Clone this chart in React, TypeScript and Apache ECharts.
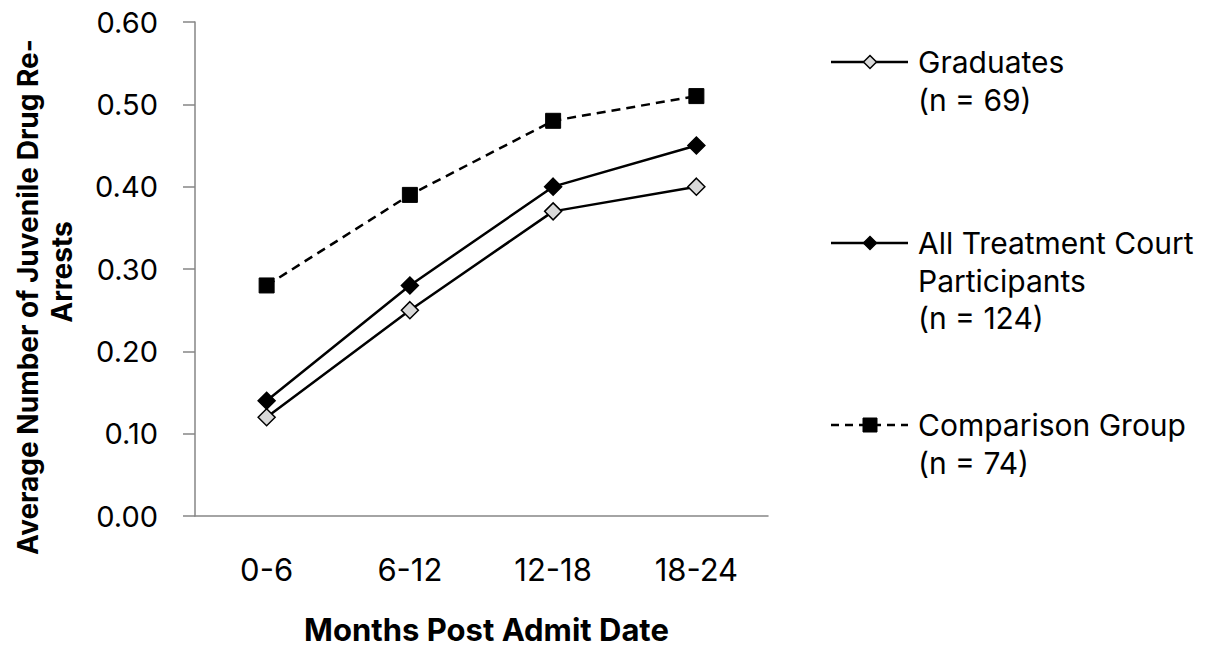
import React, { useEffect, useRef } from "react";
import * as echarts from "echarts";

const categories = ["0-6", "6-12", "12-18", "18-24"];
const graduates = [0.12, 0.25, 0.37, 0.4];
const allParticipants = [0.14, 0.28, 0.4, 0.45];
const comparison = [0.28, 0.39, 0.48, 0.51];
const legendLines = [
  ["Graduates", "(n = 69)"],
  ["All Treatment Court", "Participants", "(n = 124)"],
  ["Comparison Group", "(n = 74)"],
];
const yTitleLines = ["Average Number of Juvenile Drug Re-", "Arrests"];
const xTitle = "Months Post Admit Date";

const FONT = "Inter, 'Open Sans', sans-serif";
const AXIS_GRAY = "#868686";

export default function App() {
  const ref = useRef<HTMLDivElement>(null);
  useEffect(() => {
    if (!ref.current) return;
    const chart = echarts.init(ref.current, undefined, { renderer: "svg" });

    const legendTops = [62, 243, 425];
    const lineH = 37.5;
    const graphics: any[] = [];
    legendLines.forEach((lines, i) => {
      const y = legendTops[i];
      graphics.push({
        type: "line",
        shape: { x1: 831, y1: y, x2: 908, y2: y },
        style: {
          stroke: "#000",
          lineWidth: 2.5,
          lineDash: i === 2 ? [8, 6] : null,
        },
      });
      if (i === 2) {
        graphics.push({
          type: "rect",
          shape: { x: 863, y: y - 7, width: 14, height: 14 },
          style: { fill: "#000", stroke: "#000" },
        });
      } else {
        graphics.push({
          type: "polygon",
          shape: {
            points: [
              [870, y - 6.5],
              [876.5, y],
              [870, y + 6.5],
              [863.5, y],
            ],
          },
          style: { fill: i === 0 ? "#d9d9d9" : "#000", stroke: "#000", lineWidth: 1.5 },
        });
      }
      lines.forEach((t, k) => {
        graphics.push({
          type: "text",
          x: 918,
          y: y + k * lineH,
          style: {
            text: t,
            fontFamily: FONT,
            fontSize: 30,
            fill: "#000",
            verticalAlign: "middle",
            align: "left",
          },
        });
      });
    });

    graphics.push({
      type: "text",
      x: 28,
      y: 297,
      rotation: Math.PI / 2,
      style: {
        text: yTitleLines[0],
        fontFamily: FONT,
        fontSize: 28,
        fontWeight: "bold",
        fill: "#000",
        align: "center",
        verticalAlign: "middle",
      },
    });
    graphics.push({
      type: "text",
      x: 62,
      y: 272,
      rotation: Math.PI / 2,
      style: {
        text: yTitleLines[1],
        fontFamily: FONT,
        fontSize: 28,
        fontWeight: "bold",
        fill: "#000",
        align: "center",
        verticalAlign: "middle",
      },
    });

    chart.setOption({
      animation: false,
      grid: { left: 195, top: 22, width: 573, height: 496, containLabel: false },
      xAxis: {
        type: "category",
        data: categories,
        boundaryGap: true,
        axisLine: { show: true, lineStyle: { color: AXIS_GRAY, width: 1.5 } },
        axisTick: { show: false },
        axisLabel: { color: "#000", fontSize: 31, fontFamily: FONT, margin: 38 },
        name: xTitle,
        nameLocation: "middle",
        nameGap: 98,
        nameTextStyle: { color: "#000", fontSize: 31, fontWeight: "bold", fontFamily: FONT, padding: [0, 0, 0, 10] },
      },
      yAxis: {
        type: "value",
        min: 0,
        max: 0.6,
        interval: 0.1,
        splitLine: { show: false },
        axisLine: { show: true, lineStyle: { color: AXIS_GRAY, width: 1.5 } },
        axisTick: { show: true, length: 12, inside: false, lineStyle: { color: AXIS_GRAY, width: 1.5 } },
        axisLabel: {
          color: "#000",
          fontSize: 29,
          fontFamily: FONT,
          margin: 37,
          formatter: (v: number) => v.toFixed(2),
        },
      },
      series: [
        {
          name: "Graduates",
          type: "line",
          data: graduates,
          symbol: "diamond",
          symbolSize: 17,
          lineStyle: { color: "#000", width: 2.5 },
          itemStyle: { color: "#d9d9d9", borderColor: "#000", borderWidth: 1.5 },
        },
        {
          name: "All Treatment Court Participants",
          type: "line",
          data: allParticipants,
          symbol: "diamond",
          symbolSize: 17,
          lineStyle: { color: "#000", width: 2.5 },
          itemStyle: { color: "#000", borderColor: "#000", borderWidth: 1.5 },
        },
        {
          name: "Comparison Group",
          type: "line",
          data: comparison,
          symbol: "rect",
          symbolSize: 15,
          lineStyle: { color: "#000", width: 2.5, type: [9, 6] },
          itemStyle: { color: "#000", borderColor: "#000" },
        },
      ],
      graphic: graphics,
    });
    return () => chart.dispose();
  }, []);
  return (
    <div
      ref={ref}
      style={{ position: "absolute", left: 0, top: 0, width: 1221, height: 650, background: "#fff" }}
    />
  );
}
